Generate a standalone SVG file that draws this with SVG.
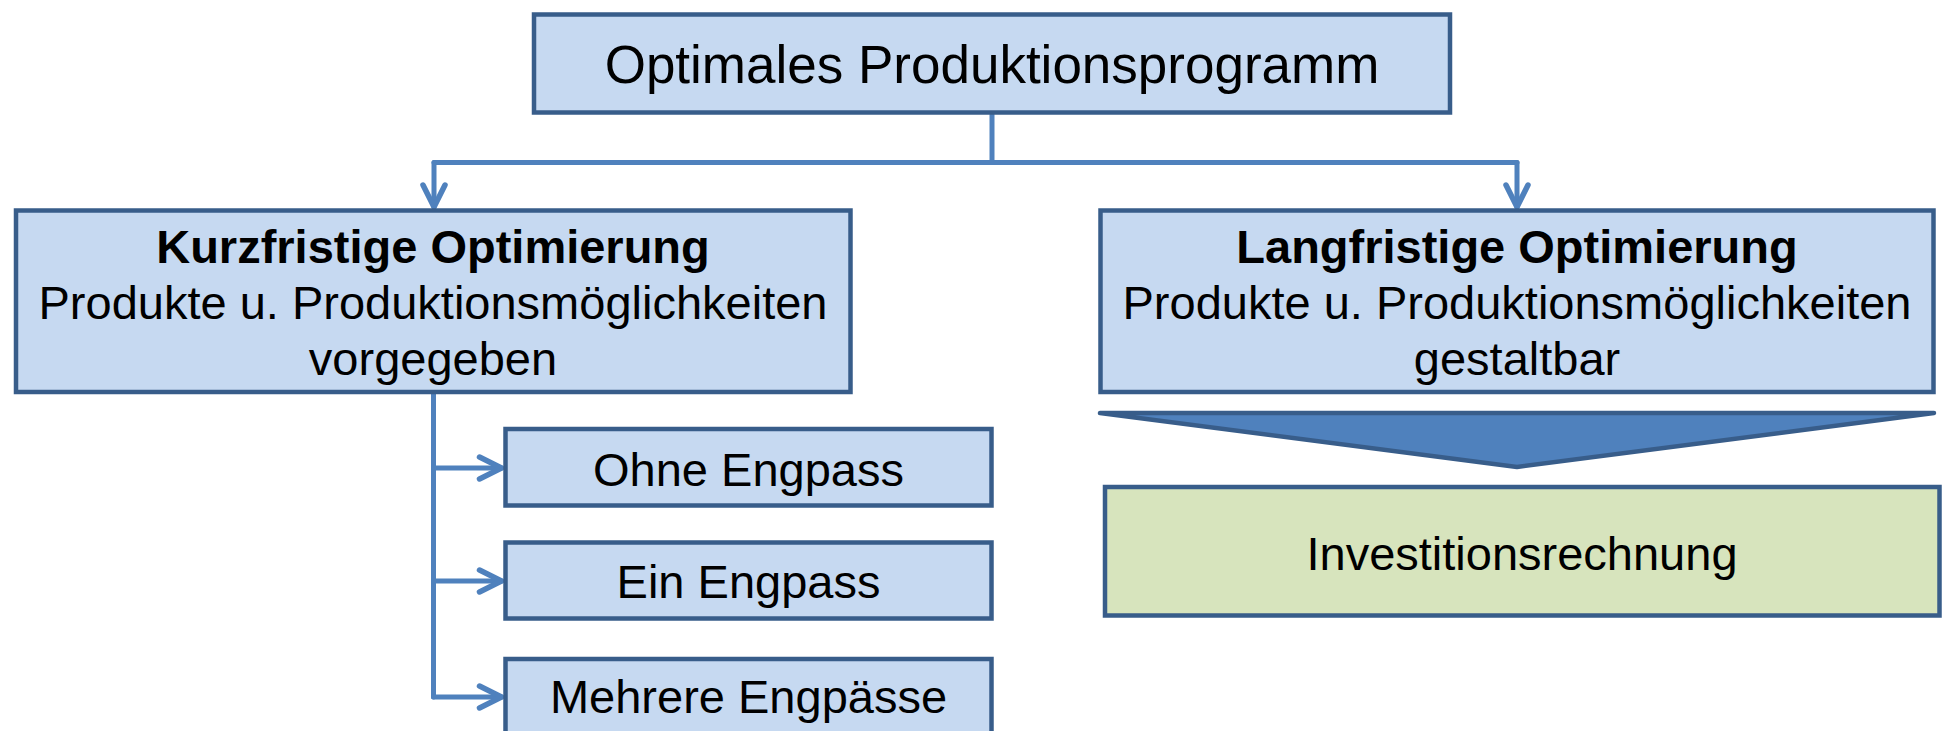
<svg xmlns="http://www.w3.org/2000/svg" width="1946" height="731" viewBox="0 0 1946 731">
<style>
.box{fill:#C6D9F1;stroke:#385D8A;stroke-width:4.5}
.green{fill:#D7E4BD;stroke:#385D8A;stroke-width:4.5}
.t{font-family:"Liberation Sans",Arial,sans-serif;font-size:47px;fill:#000;text-anchor:middle}
.b{font-weight:bold}
.con{fill:none;stroke:#4F81BD;stroke-width:5;stroke-linecap:round;stroke-linejoin:round}
</style>
<defs>
<marker id="arr" viewBox="-26 -14 30 28" markerWidth="30" markerHeight="28" refX="0" refY="0" orient="auto" markerUnits="userSpaceOnUse" overflow="visible">
<path d="M-22,-11 L0,0 L-22,11" fill="none" stroke="#4F81BD" stroke-width="5.5" stroke-linecap="round" stroke-linejoin="round"/>
</marker>
</defs>
<rect width="1946" height="731" fill="#FFFFFF"/>
<g id="connectors">
<path class="con" d="M992,115 L992,162.5"/>
<path class="con" d="M434,162.5 L1517,162.5"/>
<path class="con" d="M434,162.5 L434,207" marker-end="url(#arr)"/>
<path class="con" d="M1517,162.5 L1517,207" marker-end="url(#arr)"/>
<path class="con" d="M433.5,394 L433.5,697"/>
<path class="con" d="M433.5,468 L501.5,468" marker-end="url(#arr)"/>
<path class="con" d="M433.5,581 L501.5,581" marker-end="url(#arr)"/>
<path class="con" d="M433.5,697 L501.5,697" marker-end="url(#arr)"/>
</g>
<g id="top">
<rect class="box" x="534" y="14.5" width="916" height="98"/>
<text class="t" x="992" y="83" style="font-size:53px">Optimales Produktionsprogramm</text>
</g>
<g id="kurz">
<rect class="box" x="16" y="210.5" width="834.5" height="181.5"/>
<text class="t b" x="433" y="263">Kurzfristige Optimierung</text>
<text class="t" x="433" y="319">Produkte u. Produktionsmöglichkeiten</text>
<text class="t" x="433" y="375">vorgegeben</text>
</g>
<g id="lang">
<rect class="box" x="1100.5" y="210.5" width="833" height="181.5"/>
<text class="t b" x="1517" y="263">Langfristige Optimierung</text>
<text class="t" x="1517" y="319">Produkte u. Produktionsmöglichkeiten</text>
<text class="t" x="1517" y="375">gestaltbar</text>
</g>
<g id="chevron">
<polygon points="1100,413 1934,413 1517,467" fill="#4F81BD" stroke="#385D8A" stroke-width="4.5" stroke-linejoin="round"/>
</g>
<g id="ohne">
<rect class="box" x="505.5" y="429" width="486" height="76.5"/>
<text class="t" x="748.5" y="485.5">Ohne Engpass</text>
</g>
<g id="ein">
<rect class="box" x="505.5" y="542.5" width="486" height="76"/>
<text class="t" x="748.5" y="598">Ein Engpass</text>
</g>
<g id="mehrere">
<rect class="box" x="505.5" y="659" width="486" height="76"/>
<text class="t" x="748.5" y="713">Mehrere Engpässe</text>
</g>
<g id="invest">
<rect class="green" x="1105" y="487" width="834.5" height="128.5"/>
<text class="t" x="1522" y="569.5">Investitionsrechnung</text>
</g>
</svg>
